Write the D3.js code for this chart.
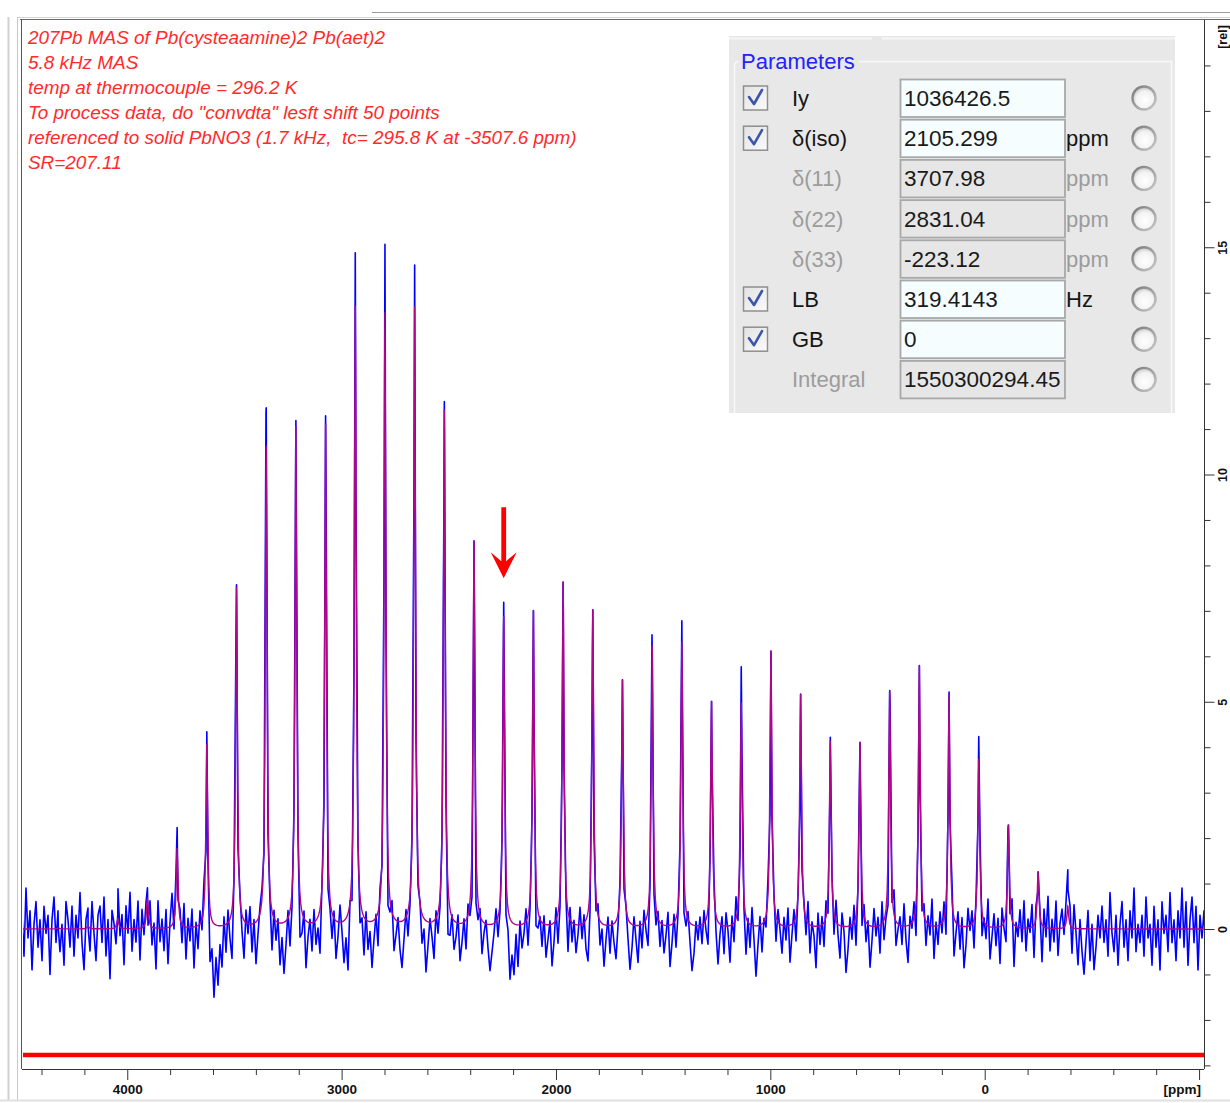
<!DOCTYPE html>
<html>
<head>
<meta charset="utf-8">
<script src="https://cdn.jsdelivr.net/npm/d3@7"></script>
<style>
  body { margin: 0; background: #fff; }
  svg { display: block; font-family: "Liberation Sans", Arial, sans-serif; }
</style>
</head>
<body>
<div id="spectrum"></div>
<script>
// ---- DATA ----

// spinning sideband positions, ppm
const sidebandPpm = [4321.3, 4182.8, 4044.3, 3905.8, 3767.3, 3628.8, 3490.3, 3351.8, 3213.3,
  3074.8, 2936.3, 2797.8, 2659.3, 2520.8, 2382.3, 2243.8, 2105.3, 1966.8, 1828.3, 1689.8,
  1551.3, 1412.8, 1274.3, 1135.8, 997.3, 858.8, 720.3, 581.8, 443.3, 304.8, 166.3, 27.8,
  -110.7, -249.2, -387.7];

// experimental (blue) peak heights, rel
const expHeight = [0.0, 0.06, 0.3, 0.9, 2.22, 4.32, 7.55, 11.44, 11.15,
  11.25, 14.84, 15.02, 14.57, 11.57, 8.51, 7.16, 6.98, 7.61, 7.0,
  5.46, 6.22, 6.76, 4.99, 5.75, 6.1, 5.15, 4.2, 4.09, 5.23, 5.78,
  5.2, 4.22, 2.28, 1.25, 1.3];

// fitted (magenta) peak heights, rel
const fitHeight = [0.02, 0.06, 0.22, 0.68, 1.77, 4.05, 7.5, 10.6, 11.04,
  11.08, 13.67, 13.52, 13.65, 11.39, 8.5, 6.85, 6.98, 7.61, 7.0,
  5.46, 6.22, 6.3, 4.99, 4.96, 6.1, 5.15, 4.12, 4.09, 5.23, 5.78,
  5.15, 3.73, 2.28, 1.25, 0.5];

// baseline residual of the measured trace, one value every noiseStepPpm from noiseStartPpm
const noiseStartPpm = 4491;
const noiseStepPpm = 9.33;
const residual = [
  0.3,-0.6,0.9,-0.2,0.4,-0.9,0.1,0.6,-0.4,0.2,-0.7,0.5,-0.1,0.3,-1.0,0.2,0.7,-0.3,0.4,-0.5,
  0.1,-0.8,0.6,0.2,-0.4,0.5,-0.6,0.3,-0.2,0.8,-0.3,-0.9,0.2,0.4,-0.5,0.6,-0.1,-0.7,0.3,0.5,
  -0.3,0.7,-0.6,0.2,-1.1,0.4,0.1,-0.4,0.6,-0.2,0.3,-0.8,0.5,-0.1,0.8,-0.5,0.2,-0.3,0.6,-0.7,
  0.4,-0.2,0.3,-0.6,0.5,-0.4,0.1,-0.9,0.6,-0.3,0.2,-0.5,0.4,-0.8,0.1,0.7,-0.2,0.3,-0.6,0.2,
  -0.4,0.5,-0.7,0.2,-0.3,0.4,-0.9,0.1,-0.5,0.3,-0.2,0.6,-0.8,-0.3,-1.1,-0.6,-1.6,-0.7,-1.3,-0.4,
  -0.9,0.2,-0.6,0.3,-0.4,-1.0,0.1,0.5,-0.5,0.2,-0.3,-0.8,0.3,-0.2,0.4,-0.6,0.1,-0.9,-0.3,0.2,
  0.3,-0.2,0.4,-0.5,-0.1,-0.8,0.2,-0.4,0.1,-0.9,-0.3,-1.1,-0.5,0.2,-0.7,-0.2,0.3,-0.6,0.1,-0.8,
  -0.4,0.2,-1.0,-0.3,0.1,-0.6,0.3,-0.5,-0.2,-0.9,0.2,-0.4,0.3,-0.7,-0.1,-0.5,0.2,-0.8,-0.3,0.4,
  -0.2,-0.9,-0.4,-1.2,0.1,-0.6,0.3,-0.3,0.2,-0.5,-0.1,-0.8,0.2,-0.6,-0.2,-1.0,-0.4,0.1,-0.7,0.3,
  -0.1,0.2,-0.5,-0.9,-0.2,0.3,-0.7,-0.3,0.1,-0.6,-1.0,-0.4,0.2,-0.5,-0.1,0.3,-0.4,-0.8,-0.2,0.1,
  -0.6,-0.2,-1.1,-0.5,0.1,-0.3,-0.8,0.2,-0.4,-0.1,0.3,-0.7,-0.2,-0.9,-0.5,0.1,-0.6,-0.3,0.2,-0.8,
  -0.4,0.1,-0.6,0.3,-0.2,-0.9,-0.4,-1.1,-0.3,0.2,-0.7,-0.2,0.1,-0.5,-1.0,-0.6,-0.2,0.3,-0.4,-0.1,
  0.2,-0.3,-0.8,-0.4,-1.3,-0.7,-1.1,-0.2,-0.9,0.1,-0.5,-0.2,0.3,-0.6,-0.1,0.2,-0.4,-0.8,-0.3,0.1,
  -0.5,0.2,-0.7,-0.3,0.1,-0.9,-0.4,0.3,-0.6,-0.2,0.2,-0.5,-0.1,-0.8,0.3,-0.4,0.1,-0.6,-0.2,0.4,
  -0.3,0.2,-0.6,-1.0,-0.4,0.1,-0.7,-0.2,0.3,-0.5,-0.1,-0.9,-0.3,0.2,-0.6,0.1,-0.4,-0.8,-0.2,0.3,
  -0.2,-0.7,0.1,-0.4,-1.0,-0.5,0.2,-0.3,-0.8,0.1,-0.5,0.3,-0.2,-0.7,-0.1,0.4,-0.6,-0.3,0.2,-0.5,
  0.1,-0.6,-0.2,0.3,-0.9,-0.4,0.2,-0.6,-0.1,0.4,-0.5,-0.8,-0.3,0.2,-0.4,-1.0,-0.6,0.1,-0.3,0.2,
  -0.4,0.3,-0.2,-0.7,0.1,-0.5,0.4,-0.3,-0.9,-0.2,0.2,-0.6,0.3,-0.1,-0.8,0.2,-0.4,0.5,-0.3,-0.6,
  0.3,-0.2,-0.8,0.1,-0.5,0.4,-0.3,-1.1,-0.4,0.2,-0.6,0.1,-0.2,0.5,-0.7,-0.3,0.2,-0.5,0.3,-0.1,
  -0.6,0.2,-0.3,0.4,-0.8,-0.2,0.3,-0.5,0.1,-1.0,-0.4,0.2,-0.3,0.5,-0.6,0.1,-0.2,-0.9,0.3,-0.4,
  0.2,-0.5,0.4,-0.3,-0.8,0.1,-0.4,0.5,-0.2,-0.7,0.3,-0.1,-1.0,-0.5,0.2,-0.3,0.4,-0.6,0.1,-0.2,
  -0.7,0.3,-0.4,0.1,-0.9,-0.3,0.4,-0.2,0.2,-0.6,0.5,-0.4,-0.1,-0.8,0.3,-0.2,0.6,-0.5,-0.1,0.2,
  -0.4,0.5,-0.3,-0.8,0.2,-0.1,0.4,-0.6,0.1,-1.0,-0.3,0.3,-0.5,0.2,-0.2,0.6,-0.7,0.1,-0.4,0.3,
  -0.2,0.4,-0.6,0.1,-0.3,0.5,-0.8,-0.2,0.3,-0.5,0.2,-0.9,-0.4,0.4,-0.1,0.3,-0.6,0.2,-0.3,0.5,
  -0.5,0.1,-0.3,0.6,-0.7,-0.2,0.3,-0.4,0.2,-0.8,0.4,-0.1,-0.6,0.3,-0.3,0.5,-0.9,0.1,-0.2,0.4,
  -0.3,0.6,-0.5,0.2,-0.1,0.5,-0.7,0.3,-0.4,0.1,-0.8,0.4,-0.2,0.7,-0.5,0.2,-0.3,0.6,-0.6,0.1,
  0.4,-0.2,0.3,-0.4,0.3,-0.6,0.5,-0.1,-0.8,0.2,-0.5,-1.0,-0.3,0.4,-0.7,0.1,-0.9,-0.4,0.3,-0.2,
  0.5,-0.3,0.2,-0.6,0.8,-0.1,-0.5,0.3,-0.8,0.1,0.6,-0.4,0.2,-0.7,0.4,-0.2,0.9,-0.5,0.1,-0.3,
  0.3,-0.6,0.7,-0.2,0.1,-0.8,0.5,-0.4,0.2,-0.9,0.6,-0.1,0.3,-0.5,0.8,-0.3,0.2,-0.7,0.4,-0.2,
  0.9,-0.4,0.6,-0.8,0.2,0.7,-0.3,0.5,-0.9,0.3,-0.2,0.4,-0.6,0.1,0.3,-0.4,0.2,-0.1,0.3,-0.2
];

// axis ticks
const ppmMinorTicks = [4400, 4200, 3800, 3600, 3400, 3200, 2800, 2600, 2400, 2200, 1800, 1600,
  1400, 1200, 800, 600, 400, 200, -200, -400, -600, -800];
const ppmMajorTicks = [4000, 3000, 2000, 1000, 0, -1000];
const ppmTickLabels = ["4000", "3000", "2000", "1000", "0", ""];
const relMinorTicks = [-3, -2, -1, 1, 2, 3, 4, 6, 7, 8, 9, 11, 12, 13, 14, 16, 17, 18, 19];
const relMajorTicks = [0, 5, 10, 15];

// integration region (red bar) and the arrow marker
const regionPpm = [4491, -1023];
const regionLevel = -2.77;
const arrowPpm = 2243.8;
const arrowFrom = 9.28;
const arrowTo = 7.72;

// comment text
const commentLines = [
  "207Pb MAS of Pb(cysteaamine)2 Pb(aet)2",
  "5.8 kHz MAS",
  "temp at thermocouple = 296.2 K",
  "To process data, do \"convdta\" lesft shift 50 points",
  "referenced to solid PbNO3 (1.7 kHz,  tc= 295.8 K at -3507.6 ppm)",
  "SR=207.11"
];

// fit parameters panel
const paramLabels = ["Iy", "δ(iso)", "δ(11)", "δ(22)", "δ(33)", "LB", "GB", "Integral"];
const paramValues = ["1036426.5", "2105.299", "3707.98", "2831.04", "-223.12", "319.4143", "0", "1550300294.45"];
const paramUnits = ["", "ppm", "ppm", "ppm", "ppm", "Hz", "", ""];
const paramFitted = [true, true, false, false, false, true, true, false];

// ---- DRAWING ----
const W = 1230, H = 1103;
const plot = { left: 22, right: 1204, top: 20, bottom: 1069 };

const svg = d3.select("#spectrum")
  .append("svg")
  .attr("width", W)
  .attr("height", H);

const xScale = d3.scaleLinear().domain([4491, -1023]).range([plot.left, plot.right]);
const yScale = d3.scaleLinear().domain([-3.08, 20]).range([plot.bottom, plot.top]);

// window chrome
svg.append("rect").attr("width", W).attr("height", H).attr("fill", "#fff");
svg.append("line").attr("x1", 372).attr("x2", W).attr("y1", 12.5).attr("y2", 12.5).attr("stroke", "#9a9a9a");
svg.append("line").attr("x1", 17).attr("x2", W).attr("y1", 17.5).attr("y2", 17.5).attr("stroke", "#d4d4d4");
svg.append("line").attr("x1", 20).attr("x2", W).attr("y1", 19.5).attr("y2", 19.5).attr("stroke", "#6a6a6a");
svg.append("line").attr("x1", 8.5).attr("x2", 8.5).attr("y1", 17).attr("y2", 1100).attr("stroke", "#d0d0d0").attr("stroke-width", 2);
svg.append("line").attr("x1", 17.5).attr("x2", 17.5).attr("y1", 17).attr("y2", 1100).attr("stroke", "#c8c8c8");
svg.append("line").attr("x1", 21.5).attr("x2", 21.5).attr("y1", 19).attr("y2", plot.bottom).attr("stroke", "#555");
svg.append("line").attr("x1", 0).attr("x2", W).attr("y1", 1100.5).attr("y2", 1100.5).attr("stroke", "#e0e0e0").attr("stroke-width", 2);

svg.append("clipPath").attr("id", "plotClip")
  .append("rect")
  .attr("x", plot.left + 1).attr("y", plot.top)
  .attr("width", plot.right - plot.left - 1).attr("height", plot.bottom - plot.top);

// lineshape of the sideband manifold
function lineshape(ppm, heights, hw) {
  let s = 0;
  for (let k = 0; k < sidebandPpm.length; k++) {
    const d = (ppm - sidebandPpm[k]) / hw;
    s += heights[k] / (1 + d * d);
  }
  return s;
}

// measured trace
const expPoints = residual.map((r, i) => {
  const ppm = noiseStartPpm - i * noiseStepPpm;
  return { ppm: ppm, v: lineshape(ppm, expHeight, 4.5) + r };
});
sidebandPpm.forEach(p => expPoints.push({ ppm: p, v: lineshape(p, expHeight, 4.5) }));
expPoints.sort((a, b) => b.ppm - a.ppm);

// fitted trace
const fitPoints = d3.range(4491, -1023, -4.66).map(p => ({ ppm: p, v: lineshape(p, fitHeight, 5) }));
sidebandPpm.forEach(p => fitPoints.push({ ppm: p, v: lineshape(p, fitHeight, 5) }));
fitPoints.sort((a, b) => b.ppm - a.ppm);

const line = d3.line()
  .x(d => xScale(d.ppm))
  .y(d => yScale(d.v));

const traces = svg.append("g").attr("clip-path", "url(#plotClip)");

traces.append("path")
  .datum(expPoints)
  .attr("d", line)
  .attr("fill", "none")
  .attr("stroke", "#0000ff")
  .attr("stroke-width", 1.6)
  .attr("stroke-linejoin", "round");

traces.append("path")
  .datum(fitPoints)
  .attr("d", line)
  .attr("fill", "none")
  .attr("stroke", "#b0068a")
  .attr("stroke-width", 1.4);

// red region bar
traces.append("line")
  .attr("x1", xScale(regionPpm[0])).attr("x2", xScale(regionPpm[1]))
  .attr("y1", yScale(regionLevel)).attr("y2", yScale(regionLevel))
  .attr("stroke", "#ff0000")
  .attr("stroke-width", 4.5);

// arrow
const ax = xScale(arrowPpm), ay0 = yScale(arrowFrom), ay1 = yScale(arrowTo);
svg.append("path")
  .attr("d", `M${ax - 2.4},${ay0} L${ax - 2.4},${ay1 - 17} L${ax - 13},${ay1 - 26} L${ax},${ay1}
    L${ax + 13},${ay1 - 26} L${ax + 2.4},${ay1 - 17} L${ax + 2.4},${ay0} Z`)
  .attr("fill", "#ff0000");

// bottom ppm axis
const xMinor = svg.append("g")
  .attr("transform", `translate(0,${plot.bottom})`)
  .call(d3.axisBottom(xScale).tickValues(ppmMinorTicks).tickSize(6).tickFormat(""));
const xMajor = svg.append("g")
  .attr("transform", `translate(0,${plot.bottom})`)
  .call(d3.axisBottom(xScale).tickValues(ppmMajorTicks).tickSize(11)
    .tickFormat((d, i) => ppmTickLabels[i]));
[xMinor, xMajor].forEach(g => {
  g.select(".domain").attr("stroke", "#333").attr("d", `M${plot.left},0.5H${plot.right}`);
  g.selectAll(".tick line").attr("stroke", "#333");
});
xMajor.selectAll("text")
  .attr("y", 15)
  .attr("fill", "#111")
  .style("font-size", "13.5px")
  .style("font-weight", "bold")
  .style("font-family", "'Liberation Sans', Arial, sans-serif");
svg.append("text")
  .attr("x", 1201).attr("y", 1094)
  .attr("text-anchor", "end")
  .style("font-size", "13.5px")
  .style("font-weight", "bold")
  .attr("fill", "#111")
  .text("[ppm]");

// right rel axis
const yMinor = svg.append("g")
  .attr("transform", `translate(${plot.right + 0.5},0)`)
  .call(d3.axisRight(yScale).tickValues(relMinorTicks).tickSize(6).tickFormat(""));
const yMajor = svg.append("g")
  .attr("transform", `translate(${plot.right + 0.5},0)`)
  .call(d3.axisRight(yScale).tickValues(relMajorTicks).tickSize(10));
[yMinor, yMajor].forEach(g => {
  g.select(".domain").attr("stroke", "#333").attr("d", `M0,${plot.top}V${plot.bottom}`);
  g.selectAll(".tick line").attr("stroke", "#333");
});
yMajor.selectAll("text")
  .attr("transform", "rotate(-90)")
  .attr("x", 0)
  .attr("y", 22.5)
  .attr("dy", null)
  .attr("fill", "#111")
  .style("text-anchor", "middle")
  .style("font-size", "12.5px")
  .style("font-weight", "bold")
  .style("font-family", "'Liberation Sans', Arial, sans-serif");
svg.append("text")
  .attr("transform", `translate(${plot.right + 23},37) rotate(-90)`)
  .attr("text-anchor", "middle")
  .style("font-size", "12.5px")
  .style("font-weight", "bold")
  .attr("fill", "#111")
  .text("[rel]");

// comment text
svg.append("g").selectAll("text")
  .data(commentLines)
  .join("text")
  .attr("x", 28)
  .attr("y", (d, i) => 44 + i * 25)
  .attr("fill", "#ff2a2a")
  .style("font-size", "18.9px")
  .style("font-style", "italic")
  .style("white-space", "pre")
  .text(d => d);

// parameters panel
const panel = svg.append("g");
const defs = svg.append("defs");
const rg = defs.append("radialGradient").attr("id", "radioFill").attr("cx", "55%").attr("cy", "60%").attr("r", "60%");
rg.append("stop").attr("offset", "0%").attr("stop-color", "#ffffff");
rg.append("stop").attr("offset", "65%").attr("stop-color", "#f2f2f2");
rg.append("stop").attr("offset", "100%").attr("stop-color", "#c4c4c4");
const ring = defs.append("linearGradient").attr("id", "radioRing").attr("x1", 0).attr("y1", 0).attr("x2", 1).attr("y2", 1);
ring.append("stop").attr("offset", "0%").attr("stop-color", "#7a7a7a");
ring.append("stop").attr("offset", "100%").attr("stop-color", "#c8c8c8");
const cg = defs.append("linearGradient").attr("id", "checkFill").attr("x1", 0).attr("y1", 0).attr("x2", 1).attr("y2", 1);
cg.append("stop").attr("offset", "0%").attr("stop-color", "#e2e2e2");
cg.append("stop").attr("offset", "100%").attr("stop-color", "#fbfbfb");

panel.append("rect")
  .attr("x", 729).attr("y", 36).attr("width", 446).attr("height", 377)
  .attr("fill", "#e8e8e8");
panel.append("path")
  .attr("d", "M729,38.5H872 M882,38.5H1175")
  .attr("stroke", "#f6f6f6").attr("stroke-width", 2);
panel.append("path")
  .attr("d", "M859,61.5H1171.5V413 M734.5,413V66 Q734.5,61.5 739,61.5")
  .attr("fill", "none").attr("stroke", "#f8f8f8").attr("stroke-width", 1.5);
panel.append("text")
  .attr("x", 741).attr("y", 69)
  .attr("fill", "#2222ff")
  .style("font-size", "22px")
  .text("Parameters");

const rowY = paramLabels.map((d, i) => 98 + i * 40.2);

const rows = panel.selectAll(".param-row")
  .data(paramLabels)
  .join("g")
  .attr("class", "param-row")
  .attr("transform", (d, i) => `translate(0,${rowY[i]})`);

rows.filter((d, i) => paramFitted[i]).each(function () {
  const g = d3.select(this);
  g.append("rect")
    .attr("x", 743.5).attr("y", -12).attr("width", 24).attr("height", 24)
    .attr("fill", "url(#checkFill)").attr("stroke", "#8e8e8e").attr("stroke-width", 1.5);
  g.append("path")
    .attr("d", "M749,-1 L754,6 L762,-8")
    .attr("fill", "none").attr("stroke", "#3d55a8").attr("stroke-width", 2.6)
    .attr("stroke-linecap", "round").attr("stroke-linejoin", "round");
});

rows.append("text")
  .attr("x", 792)
  .attr("y", 8)
  .attr("fill", (d, i) => paramFitted[i] ? "#151515" : "#9c9c9c")
  .style("font-size", "22px")
  .text(d => d);

rows.append("rect")
  .attr("x", 900.5).attr("y", -18.5).attr("width", 164.5).attr("height", 37.5)
  .attr("fill", (d, i) => paramFitted[i] ? "#f5fdff" : "#e6e6e6")
  .attr("stroke", "#a8a8a8").attr("stroke-width", 1.8);

rows.append("text")
  .attr("x", 904)
  .attr("y", 8)
  .attr("fill", "#1a1a1a")
  .style("font-size", "22.5px")
  .text((d, i) => paramValues[i]);

rows.append("text")
  .attr("x", 1066)
  .attr("y", 8)
  .attr("fill", (d, i) => paramFitted[i] ? "#151515" : "#9c9c9c")
  .style("font-size", "22px")
  .text((d, i) => paramUnits[i]);

rows.append("circle")
  .attr("cx", 1144).attr("cy", 0).attr("r", 11.5)
  .attr("fill", "url(#radioFill)")
  .attr("stroke", "url(#radioRing)").attr("stroke-width", 2.4);
</script>
</body>
</html>
